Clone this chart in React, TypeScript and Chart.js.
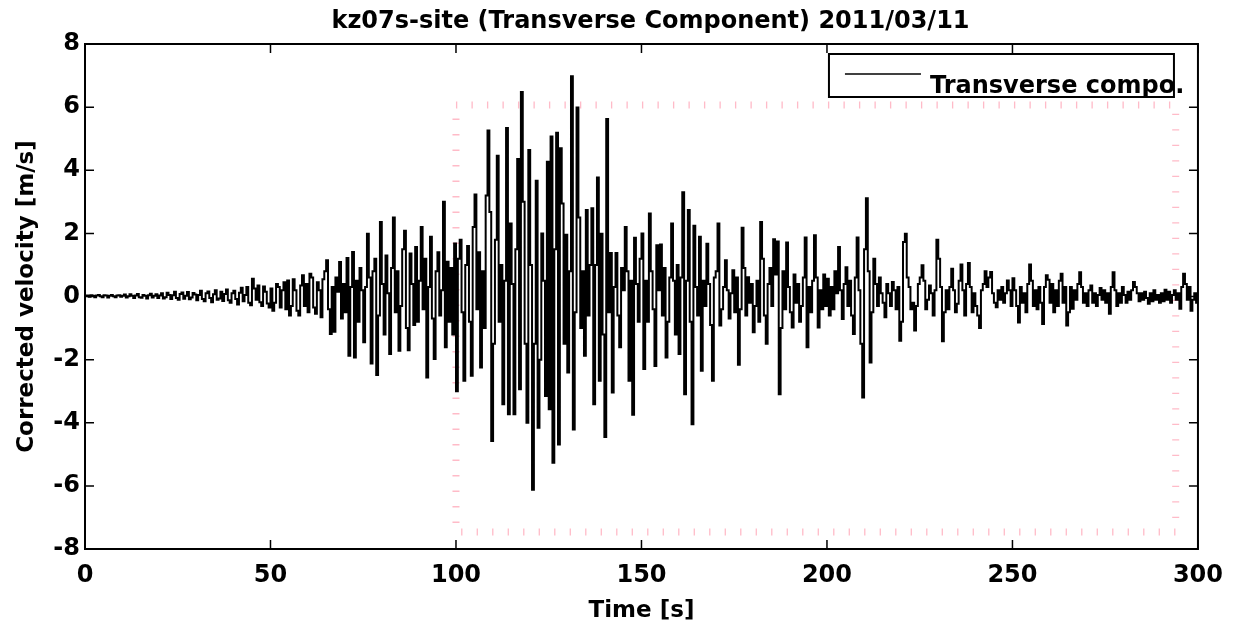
import React, { useEffect, useRef } from 'react';
import { Chart, registerables } from 'chart.js';

Chart.register(...registerables);

const TITLE = 'kz07s-site (Transverse Component) 2011/03/11';
const X_LABEL = 'Time [s]';
const Y_LABEL = 'Corrected velocity [m/s]';
const SERIES_LABEL = 'Transverse compo.';

const T_START = 0;
const T_STEP = 0.5;

const xTickValues = [0, 50, 100, 150, 200, 250, 300];
const yTickValues = [-8, -6, -4, -2, 0, 2, 4, 6, 8];

// pink dotted selection box (data coordinates)
const boxTimes = [100, 294];
const boxVelocities = [-7.46, 6.07];

// velocity samples every 0.5 s, read from the record
const velocityPre = [
  0.02, 0.03, -0.01, 0.04, 0.02, -0.02, 0.03, 0.05, 0.01, -0.02, 0.04, 0.03, -0.03, 0.02, 0.05, 0.01, -0.02, 0.03, 0.04, -0.01,
  0.02, 0.06, -0.03, 0.01, 0.07, 0.02, -0.05, 0.03, 0.08, -0.02, -0.04, 0.05, 0.02, -0.06, 0.04, 0.09, -0.03, 0.02, 0.07, -0.05,
  0.03, 0.10, -0.06, -0.02, 0.12, 0.05, -0.08, 0.04, 0.15, -0.05, -0.10, 0.08, 0.13, -0.07, 0.02, 0.14, -0.09, -0.03, 0.11, 0.06,
  -0.12, 0.05, 0.18, -0.08, -0.15, 0.10, 0.16, -0.05, -0.18, 0.07, 0.20, -0.10, -0.06, 0.15, -0.14, 0.08, 0.22, -0.12, -0.20, 0.10,
  0.18, -0.08, -0.25, 0.12, 0.28, -0.15, 0.05, 0.30, -0.20, -0.28, 0.56, 0.25, -0.10, 0.35, -0.18, -0.30, 0.32, 0.15, -0.22, -0.35,
  0.25, -0.45, -0.20, 0.40, 0.30, -0.35, 0.20, 0.45, -0.40, 0.51, -0.60, -0.30, 0.55, 0.20, -0.45, -0.60, 0.35, 0.67, -0.30, 0.40,
];

const velocityBuildUp = [
  -0.50, 0.72, 0.60, -0.35, -0.55, 0.45, 0.20, -0.66, 0.55, 0.80, 1.15, -0.40, -1.19, 0.30, -1.12, 0.60, 0.15, 1.09, -0.70, 0.40,
  -0.50, 1.22, -1.88, 0.30, 1.41, -1.93, 0.50, -0.80, 0.90, 0.20, -1.45, 0.30, 1.99, 0.60, -2.12, 0.80, 1.20, -2.49, -0.60, 2.36,
  0.40, -1.20, 1.30, 0.10, -1.82, 0.90, 2.50, -0.50, 0.80, -1.72, -0.30, 1.50, 2.08, -1.00, -1.70, 1.36, 0.40, -0.90, 1.57, -0.80,
  0.50, 2.20, -0.40, 1.20, -2.57, 0.30, 1.89, -0.70, -1.98, 0.80, 1.40, -0.60, 0.20, 3.00, -1.61, 1.10, -0.80, 0.90, -1.20, 1.68,
];

const velocityStrong = [
  -3.00, 1.20, 1.80, -0.50, -2.67, 1.00, 1.60, -0.80, -2.51, 2.20, 3.23, -0.40, 1.40, -2.25, 0.80, -1.00, 3.20, 5.26, 2.68, -4.58,
  -1.50, 1.80, 4.46, -0.80, 1.00, -3.41, 0.50, 5.34, -3.73, 2.31, 0.40, -3.73, 1.50, 4.36, -2.94, 6.48, 3.00, -1.50, -4.00, 4.64,
  1.00, -6.12, -1.50, 3.67, -4.16, -2.00, 2.00, 0.50, -3.15, 4.27, -3.57, 5.07, -5.27, 1.50, 5.19, -4.69, 4.70, 2.95, -1.50, 1.96,
  -2.41, 0.80, 6.98, -4.21, -0.50, 5.99, 2.50, -1.00, 0.80, -1.88, 2.74, -0.60, 1.00, 2.80, -3.41, 1.00, 3.77, -2.67, 1.99, -1.20,
  -4.45, 5.62, -0.50, 1.38, -3.04, 0.30, 1.38, -0.60, -1.61, 0.90, 0.20, 2.20, 0.80, -2.67, 0.50, -3.75, 1.86, 0.40, -0.80, 1.20,
];

const velocityLate = [
  2.00, -2.30, 0.50, -0.80, 2.63, 0.80, -0.40, -2.20, 1.62, 0.20, 1.65, -0.60, 0.90, -1.93, -0.80, 0.60, 2.31, 0.50, -1.20, 1.00,
  -1.82, 0.60, 3.30, -3.10, 0.50, 2.74, -0.80, -4.05, 2.24, 0.30, -0.60, 1.89, -2.35, 0.50, -0.30, 1.67, 0.40, -0.90, -2.67, 0.60,
  0.80, 2.31, -0.92, -0.40, 0.30, 1.15, 0.20, -0.70, 0.10, 0.83, -0.50, 0.60, -2.16, -0.40, 2.18, 0.90, -0.60, 0.61, -0.20, 0.40,
  -1.13, -0.30, 0.50, -0.80, 2.36, 1.20, -0.60, -1.50, 0.40, 0.90, -0.30, 1.81, 0.70, 1.74, -3.10, -1.00, 0.80, -0.40, 1.71, 0.30,
  -0.50, -0.98, 0.70, -0.20, 0.40, -0.80, -0.30, 0.60, 1.87, -1.61, 0.30, -0.50, 0.50, 1.94, 0.60, -0.98, 0.20, -0.40, 0.70, -0.30,
  0.56, -0.60, 0.30, -0.40, 0.80, 0.10, 1.57, 0.20, -0.71, 0.40, 0.93, -0.30, 0.50, -0.60, -1.19, 0.60, 1.87, 0.20, -1.50, -3.20,
  1.50, 3.11, 0.80, -2.09, -0.50, 1.20, 0.40, -0.30, 0.60, 0.10, -0.20, -0.66, 0.40, 0.10, -0.30, 0.46, 0.20, -0.40, 0.30, -1.40,
];

const velocityCoda = [
  -0.80, 1.73, 1.99, 0.60, 0.30, -0.40, -0.20, -1.08, -0.30, 0.40, 0.60, 0.99, 0.50, -0.40, -0.10, 0.35, 0.10, -0.60, 0.20, 1.80,
  1.20, 0.30, -1.42, -0.50, 0.20, -0.40, 0.30, 0.88, 0.20, -0.50, -0.23, 0.50, 1.01, 0.20, -0.60, 0.40, 1.06, 0.30, -0.50, 0.10,
  -0.30, -0.60, -1.00, 0.20, 0.40, 0.80, 0.30, 0.60, 0.78, 0.10, -0.20, -0.34, 0.20, -0.10, 0.30, -0.20, 0.10, 0.51, 0.20, -0.30,
  0.58, 0.20, -0.30, -0.82, 0.30, -0.20, 0.10, -0.50, 0.40, 1.01, 0.50, -0.30, 0.20, -0.40, 0.30, -0.20, -0.87, 0.30, 0.67, 0.53,
  -0.20, 0.40, -0.50, 0.20, -0.30, 0.50, 0.72, -0.20, 0.30, -0.92, -0.50, 0.30, -0.39, 0.20, -0.10, 0.40, 0.77, 0.30, -0.20, 0.10,
  -0.30, 0.20, 0.35, -0.20, 0.10, -0.30, 0.05, 0.27, -0.10, 0.20, -0.20, 0.10, -0.55, 0.30, 0.77, 0.20, -0.30, 0.10, -0.20, 0.30,
  0.05, -0.20, 0.15, -0.10, 0.20, 0.46, 0.30, 0.10, -0.15, 0.10, -0.10, 0.15, -0.05, -0.23, 0.10, -0.15, 0.20, -0.10, 0.05, -0.20,
  0.10, -0.15, 0.21, -0.10, 0.15, -0.20, 0.05, 0.20, -0.10, 0.10, -0.39, 0.30, 0.72, 0.40, -0.10, 0.30, -0.45, -0.10, 0.10, -0.20,
  -0.06,
];

const velocity = [...velocityPre, ...velocityBuildUp, ...velocityStrong, ...velocityLate, ...velocityCoda];

const FONT = '"DejaVu Sans", sans-serif';

const framePlugin = {
  id: 'matlabFrame',
  beforeDatasetsDraw(chart: any) {
    const { ctx } = chart;
    const xs = chart.scales.x;
    const ys = chart.scales.y;
    const x0 = xs.getPixelForValue(boxTimes[0]);
    const x1 = xs.getPixelForValue(boxTimes[1]);
    const y0 = ys.getPixelForValue(boxVelocities[1]);
    const y1 = ys.getPixelForValue(boxVelocities[0]);
    ctx.save();
    ctx.strokeStyle = 'rgba(255, 175, 190, 0.85)';
    ctx.lineWidth = 7;
    ctx.setLineDash([1.3, 14.2]);
    ctx.strokeRect(x0, y0, x1 - x0, y1 - y0);
    ctx.restore();
  },
  afterDatasetsDraw(chart: any) {
    const { ctx, chartArea } = chart;
    const { left, right, top, bottom } = chartArea;
    const xs = chart.scales.x;
    const ys = chart.scales.y;
    ctx.save();
    ctx.setLineDash([]);
    ctx.strokeStyle = '#000';
    // inward ticks
    ctx.lineWidth = 1.5;
    const tl = 9;
    ctx.beginPath();
    xTickValues.forEach((v) => {
      const px = xs.getPixelForValue(v);
      ctx.moveTo(px, bottom);
      ctx.lineTo(px, bottom - tl);
      ctx.moveTo(px, top);
      ctx.lineTo(px, top + tl);
    });
    yTickValues.forEach((v) => {
      const py = ys.getPixelForValue(v);
      ctx.moveTo(left, py);
      ctx.lineTo(left + tl, py);
      ctx.moveTo(right, py);
      ctx.lineTo(right - tl, py);
    });
    ctx.stroke();
    // frame
    ctx.lineWidth = 2;
    ctx.strokeRect(left, top, right - left, bottom - top);

    // title
    ctx.fillStyle = '#000';
    ctx.font = `bold 24px ${FONT}`;
    ctx.textAlign = 'center';
    ctx.textBaseline = 'middle';
    ctx.fillText(TITLE, (left + right) / 2 + 9, top - 22);

    // legend box
    const lx = right - 369;
    const ly = top + 10;
    const lw = 345;
    const lh = 43;
    ctx.fillStyle = '#fff';
    ctx.fillRect(lx, ly, lw, lh);
    ctx.lineWidth = 2;
    ctx.strokeRect(lx, ly, lw, lh);
    ctx.lineWidth = 1.5;
    ctx.beginPath();
    ctx.moveTo(lx + 16, ly + 20);
    ctx.lineTo(lx + 92, ly + 20);
    ctx.stroke();
    ctx.fillStyle = '#000';
    ctx.font = `bold 24px ${FONT}`;
    ctx.textBaseline = 'alphabetic';
    ctx.textAlign = 'left';
    const label = chart.data.datasets[0].label;
    ctx.fillText(label, lx + 101, ly + 39);
    ctx.restore();
  },
};

export default function App() {
  const canvasRef = useRef<HTMLCanvasElement | null>(null);

  useEffect(() => {
    document.body.style.margin = '0';
    const canvas = canvasRef.current;
    if (!canvas) return;
    const points = velocity.map((v, i) => ({ x: T_START + i * T_STEP, y: v }));
    const chart = new Chart(canvas, {
      type: 'line',
      data: {
        datasets: [
          {
            label: SERIES_LABEL,
            data: points,
            borderColor: '#000',
            borderWidth: 2,
            pointRadius: 0,
            stepped: true,
            fill: false,
          },
        ],
      },
      options: {
        responsive: false,
        animation: false,
        devicePixelRatio: 1,
        layout: { padding: { left: 0, right: 36, top: 44, bottom: 0 } },
        plugins: {
          legend: { display: false },
          tooltip: { enabled: false },
          title: { display: false },
        },
        scales: {
          x: {
            type: 'linear',
            min: 0,
            max: 300,
            afterBuildTicks: (scale: any) => {
              scale.ticks = xTickValues.map((v) => ({ value: v }));
            },
            afterFit: (scale: any) => {
              scale.height = 82;
            },
            grid: { display: false, drawTicks: false },
            border: { display: false },
            ticks: {
              color: '#000',
              padding: 12,
              maxRotation: 0,
              font: { family: FONT, size: 24, weight: 'bold' },
            },
            title: {
              display: true,
              text: X_LABEL,
              color: '#000',
              font: { family: FONT, size: 23, weight: 'bold' },
              padding: { top: 0, bottom: 6 },
            },
          },
          y: {
            type: 'linear',
            min: -8,
            max: 8,
            afterBuildTicks: (scale: any) => {
              scale.ticks = yTickValues.map((v) => ({ value: v }));
            },
            afterFit: (scale: any) => {
              scale.width = 85;
            },
            grid: { display: false, drawTicks: false },
            border: { display: false },
            ticks: {
              color: '#000',
              padding: 5,
              font: { family: FONT, size: 24, weight: 'bold' },
            },
            title: {
              display: true,
              text: Y_LABEL,
              color: '#000',
              font: { family: FONT, size: 23, weight: 'bold' },
              padding: { top: 13, bottom: 0 },
            },
          },
        },
      },
      plugins: [framePlugin],
    });
    return () => {
      chart.destroy();
    };
  }, []);

  return (
    <div style={{ position: 'absolute', left: 0, top: 0, width: 1235, height: 631, background: '#fff' }}>
      <canvas ref={canvasRef} width={1235} height={631} />
    </div>
  );
}
